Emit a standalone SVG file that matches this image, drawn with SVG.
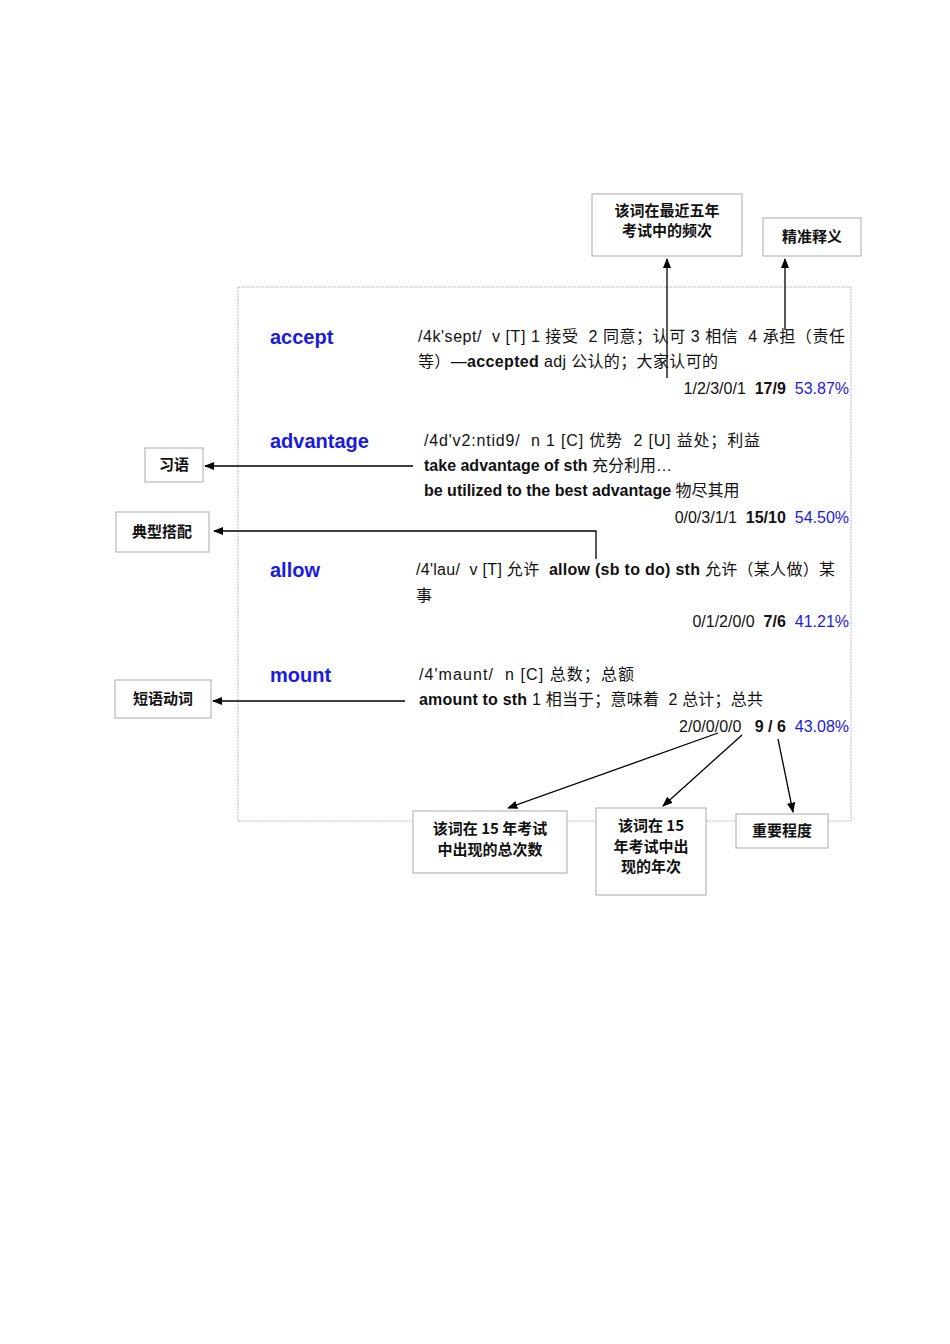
<svg xmlns="http://www.w3.org/2000/svg" width="950" height="1344" viewBox="0 0 950 1344">
<style>
text{white-space:pre}
.t{font-family:"Liberation Sans","Noto Sans CJK SC",sans-serif;font-size:16px;fill:#111}
.w{font-family:"Liberation Sans",sans-serif;font-size:20px;font-weight:bold;fill:#1a1ae0}
.b{font-weight:bold}
.p{fill:#1a1ae0}
.lb{font-family:"Noto Sans CJK SC",sans-serif;font-size:15px;font-weight:bold;fill:#111;text-anchor:middle}
.bx{fill:#fff;stroke:#aaa;stroke-width:1}
.c{stroke:#000;stroke-width:1.3;fill:none;marker-end:url(#a)}
</style>
<defs><marker id="a" viewBox="0 0 10 10" refX="9" refY="5" markerWidth="8" markerHeight="8" orient="auto"><path d="M0,1 L10,5 L0,9 z" fill="#000"/></marker></defs>
<rect x="238" y="287" width="613" height="534" fill="none" stroke="#bbb" stroke-dasharray="2,1"/>
<g id="entries">
<text class="w" x="270" y="344">accept</text>
<text class="t" x="418" y="342" textLength="427">/4k'sept/  v [T] 1 接受  2 同意；认可 3 相信  4 承担（责任</text>
<text class="t" x="418" y="367" textLength="300">等）—<tspan class="b">accepted</tspan> adj 公认的；大家认可的</text>
<text class="t" x="849" y="394" text-anchor="end">1/2/3/0/1  <tspan class="b">17/9</tspan>  <tspan class="p">53.87%</tspan></text>
<text class="w" x="270" y="448">advantage</text>
<text class="t" x="424" y="446" textLength="336">/4d'v2:ntid9/  n 1 [C] 优势  2 [U] 益处；利益</text>
<text class="t" x="424" y="471"><tspan class="b">take advantage of sth</tspan> 充分利用…</text>
<text class="t" x="424" y="496"><tspan class="b">be utilized to the best advantage</tspan> 物尽其用</text>
<text class="t" x="849" y="523" text-anchor="end">0/0/3/1/1  <tspan class="b">15/10</tspan>  <tspan class="p">54.50%</tspan></text>
<text class="w" x="270" y="577">allow</text>
<text class="t" x="416" y="575" textLength="419">/4'lau/  v [T] 允许  <tspan class="b">allow (sb to do) sth</tspan> 允许（某人做）某</text>
<text class="t" x="416" y="601">事</text>
<text class="t" x="849" y="627" text-anchor="end">0/1/2/0/0  <tspan class="b">7/6</tspan>  <tspan class="p">41.21%</tspan></text>
<text class="w" x="270" y="682">mount</text>
<text class="t" x="419" y="680" textLength="215">/4'maunt/  n [C] 总数；总额</text>
<text class="t" x="419" y="705" textLength="344"><tspan class="b">amount to sth</tspan> 1 相当于；意味着  2 总计；总共</text>
<text class="t" x="849" y="732" text-anchor="end">2/0/0/0/0   <tspan class="b">9 / 6</tspan>  <tspan class="p">43.08%</tspan></text>
</g>
<g id="connectors">
<path class="c" d="M667,378 V259"/>
<path class="c" d="M785,330 V259"/>
<path class="c" d="M413,466 H205"/>
<path class="c" d="M596,559 V531 H214"/>
<path class="c" d="M405,701 H213"/>
<path class="c" d="M718,733 L508,808"/>
<path class="c" d="M742,735 L663,806"/>
<path class="c" d="M778,739 L793,812"/>
</g>
<g id="n1"><rect class="bx" x="592" y="194" width="150" height="62"/><text class="lb" x="667" y="216">该词在最近五年</text><text class="lb" x="667" y="236">考试中的频次</text></g>
<g id="n2"><rect class="bx" x="763" y="218" width="98" height="38"/><text class="lb" x="812" y="242">精准释义</text></g>
<g id="n3"><rect class="bx" x="145" y="448" width="58" height="34"/><text class="lb" x="174" y="470">习语</text></g>
<g id="n4"><rect class="bx" x="116" y="512" width="93" height="40"/><text class="lb" x="162" y="537">典型搭配</text></g>
<g id="n5"><rect class="bx" x="115" y="680" width="96" height="38"/><text class="lb" x="163" y="704">短语动词</text></g>
<g id="n6"><rect class="bx" x="413" y="811" width="154" height="62"/><text class="lb" x="490" y="834">该词在 15 年考试</text><text class="lb" x="490" y="855">中出现的总次数</text></g>
<g id="n7"><rect class="bx" x="596" y="808" width="110" height="87"/><text class="lb" x="651" y="831">该词在 15</text><text class="lb" x="651" y="852">年考试中出</text><text class="lb" x="651" y="872">现的年次</text></g>
<g id="n8"><rect class="bx" x="736" y="814" width="92" height="34"/><text class="lb" x="782" y="836">重要程度</text></g>
</svg>
